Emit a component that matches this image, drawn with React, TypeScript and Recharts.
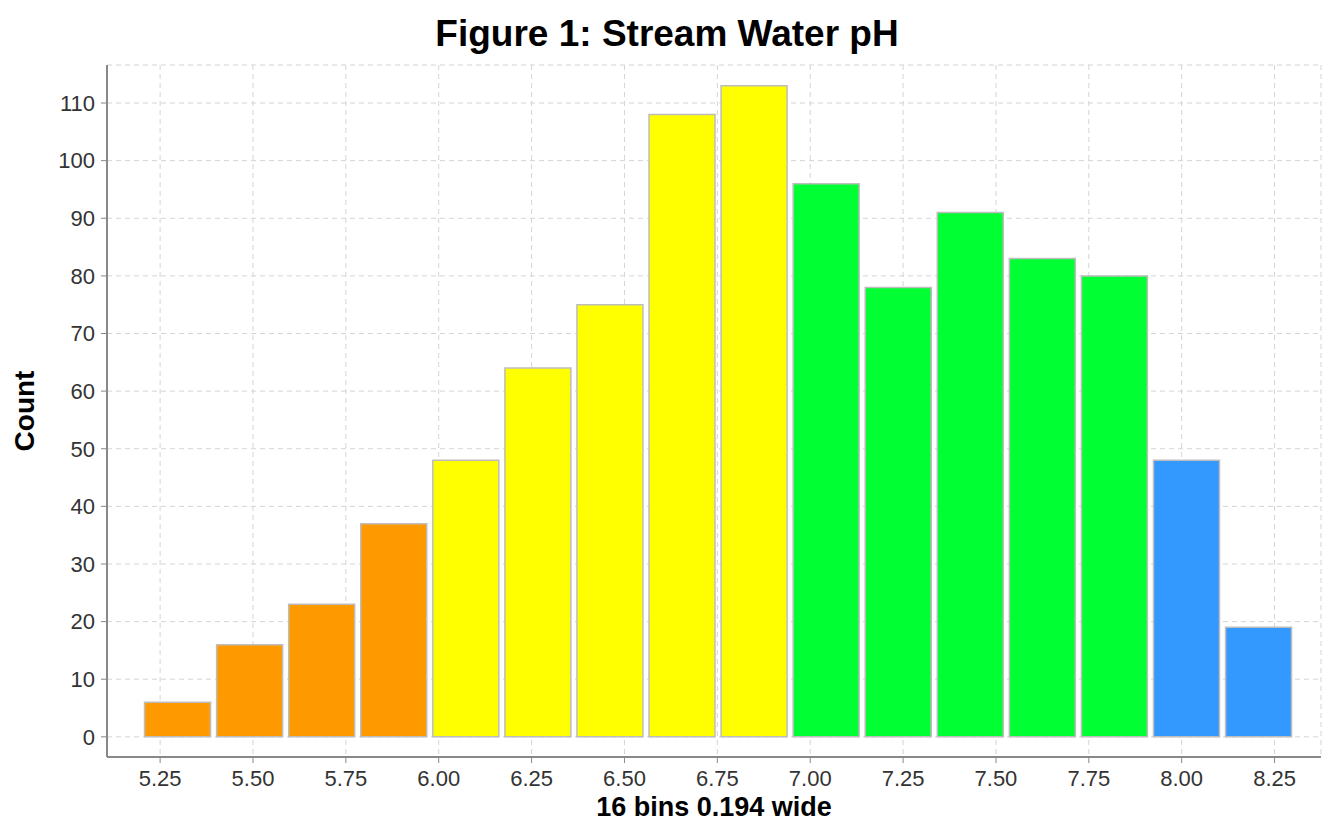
import React from "react";
import { BarChart, Bar, XAxis, YAxis, CartesianGrid, Cell } from "recharts";

// bin centres (16 bins, 0.194 wide, starting at 5.20)
const binCenters = [5.297, 5.491, 5.685, 5.879, 6.073, 6.267, 6.461, 6.655, 6.849, 7.043, 7.237, 7.431, 7.625, 7.819, 8.013, 8.207];
const counts = [6, 16, 23, 37, 48, 64, 75, 108, 113, 96, 78, 91, 83, 80, 48, 19];
const binColors = [
  "#ff9900", "#ff9900", "#ff9900", "#ff9900",
  "#ffff00", "#ffff00", "#ffff00", "#ffff00", "#ffff00",
  "#00ff33", "#00ff33", "#00ff33", "#00ff33", "#00ff33",
  "#3399ff", "#3399ff",
];
const xTicks = [5.25, 5.5, 5.75, 6.0, 6.25, 6.5, 6.75, 7.0, 7.25, 7.5, 7.75, 8.0, 8.25];
const yTicks = [0, 10, 20, 30, 40, 50, 60, 70, 80, 90, 100, 110];

const data = binCenters.map((c, i) => ({ center: c, count: counts[i] }));

const font = '"Liberation Sans", Arial, sans-serif';
const tickStyle = { fontSize: 22, fill: "#333", fontFamily: font };

export default function App() {
  return (
    <div style={{ position: "absolute", left: 0, top: 0, width: 1323, height: 822, background: "#fff", overflow: "hidden", fontFamily: font }}>
      <div style={{ position: "absolute", left: 0, width: 1334, top: 15, lineHeight: "37px", textAlign: "center", fontWeight: 700, fontSize: 37, color: "#000" }}>
        Figure 1: Stream Water pH
      </div>
      <div style={{ position: "absolute", left: 25, top: 411, transform: "translate(-50%, -50%) rotate(-90deg)", fontWeight: 700, fontSize: 28, lineHeight: "28px", whiteSpace: "nowrap" }}>
        Count
      </div>
      <div style={{ position: "absolute", left: 107, width: 1214, top: 795, lineHeight: "24px", textAlign: "center", fontWeight: 700, fontSize: 27, whiteSpace: "nowrap" }}>
        16 bins 0.194 wide
      </div>
      <BarChart width={1323} height={822} data={data} margin={{ top: 65, right: 2, bottom: 0, left: 0 }} barCategoryGap={3}>
        <CartesianGrid stroke="#d4d4d4" strokeDasharray="5 4" />
        <XAxis
          xAxisId="top"
          orientation="top"
          type="number"
          dataKey="center"
          domain={[5.107, 8.375]}
          allowDataOverflow
          height={0}
          tick={false}
          tickLine={false}
          axisLine={{ stroke: "#999", strokeWidth: 2 }}
        />
        <XAxis
          type="number"
          dataKey="center"
          domain={[5.107, 8.375]}
          allowDataOverflow
          ticks={xTicks}
          tickFormatter={(v: number) => v.toFixed(2)}
          tick={tickStyle}
          tickLine={{ stroke: "#888" }}
          tickSize={6}
          tickMargin={7}
          axisLine={{ stroke: "#888", strokeWidth: 2 }}
          height={65}
        />
        <YAxis
          type="number"
          domain={[-3.5, 116.6]}
          allowDataOverflow
          ticks={yTicks}
          tick={tickStyle}
          tickLine={{ stroke: "#888" }}
          tickSize={6}
          tickMargin={6}
          axisLine={{ stroke: "#888", strokeWidth: 2 }}
          width={107}
        />
        <Bar dataKey="count" stroke="#bdbdbd" strokeWidth={1.5} isAnimationActive={false}>
          {data.map((d, i) => (
            <Cell key={d.center} fill={binColors[i]} />
          ))}
        </Bar>
      </BarChart>
    </div>
  );
}
